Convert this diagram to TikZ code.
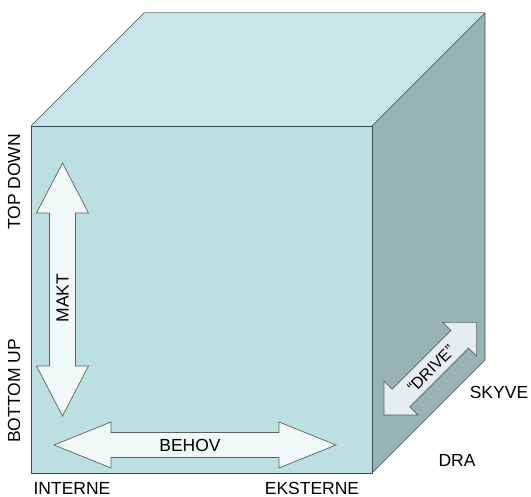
\documentclass[tikz,border=0pt]{standalone}
\usepackage{fontspec}
\setmainfont{Liberation Sans}
\definecolor{frontc}{HTML}{BCDFE2}
\definecolor{topc}{HTML}{C9E6E8}
\definecolor{sidec}{HTML}{97B3B6}
\definecolor{edgec}{HTML}{3F4A4C}
\definecolor{arrfill}{HTML}{F0F8F8}
\definecolor{arrfill2}{HTML}{E6EDEE}
\definecolor{arredge}{HTML}{5A6264}
\newcommand\dblarrowpath[4]{(0,0) -- (#2,-#3) -- (#2,-#4) -- (#1-#2,-#4) -- (#1-#2,-#3) -- (#1,0) -- (#1-#2,#3) -- (#1-#2,#4) -- (#2,#4) -- (#2,#3) -- cycle}
\begin{document}
\begin{tikzpicture}[x=1pt,y=-1pt,
  face/.style={draw=edgec,line width=0.7pt,line join=round},
  arr/.style={draw=arredge,line width=0.7pt,fill=arrfill,line join=miter},
  lbl/.style={font=\fontsize{17.5}{17.5}\selectfont,inner sep=0pt}]
\useasboundingbox (0,0) rectangle (531,497);
% cube corners
\coordinate (ftl) at (31,126);
\coordinate (ftr) at (372,126);
\coordinate (fbr) at (372,473);
\coordinate (fbl) at (31,473);
\coordinate (btl) at (144,13);
\coordinate (btr) at (485,13);
\coordinate (bbr) at (485,360);
% faces
\fill[topc] (ftl) -- (btl) -- (btr) -- (ftr) -- cycle;
\fill[sidec] (ftr) -- (btr) -- (bbr) -- (fbr) -- cycle;
\fill[frontc] (ftl) -- (ftr) -- (fbr) -- (fbl) -- cycle;
\draw[face] (ftl) -- (btl);
\draw[draw=gray!80,line width=1pt] (btl) -- (btr);
\draw[face] (btr) -- (bbr) -- (fbr);
\draw[face] (ftr) -- (btr);
\draw[face] (ftl) -- (ftr) -- (fbr) -- (fbl) -- cycle;
% MAKT arrow
\begin{scope}[shift={(62.5,163)},rotate=-90]
\draw[arr] \dblarrowpath{253}{50}{26}{13};
\end{scope}
\node[lbl,rotate=90] (makt) at (62.5,298) {MAKT};
% BEHOV arrow
\begin{scope}[shift={(54,445)}]
\draw[arr] \dblarrowpath{282}{57}{23}{12.5};
\end{scope}
\node[lbl] (behov) at (190,445) {BEHOV};
% DRIVE arrow
\begin{scope}[shift={(384,415)},rotate=45]
\draw[arr,fill=arrfill2] \dblarrowpath{131}{24}{24}{12.5};
\end{scope}
\node[lbl,rotate=45,font=\fontsize{16}{16}\selectfont] (drive) at (431,369) {“DRIVE”};
% axis labels
\node[lbl,rotate=90] (topdown) at (14,182) {TOP DOWN};
\node[lbl,rotate=90] (bottomup) at (14,391) {BOTTOM UP};
\node[lbl] (interne) at (72,488) {INTERNE};
\node[lbl] (eksterne) at (312,488) {EKSTERNE};
\node[lbl] (skyve) at (499,392) {SKYVE};
\node[lbl] (dra) at (457,460) {DRA};
\end{tikzpicture}
\end{document}
